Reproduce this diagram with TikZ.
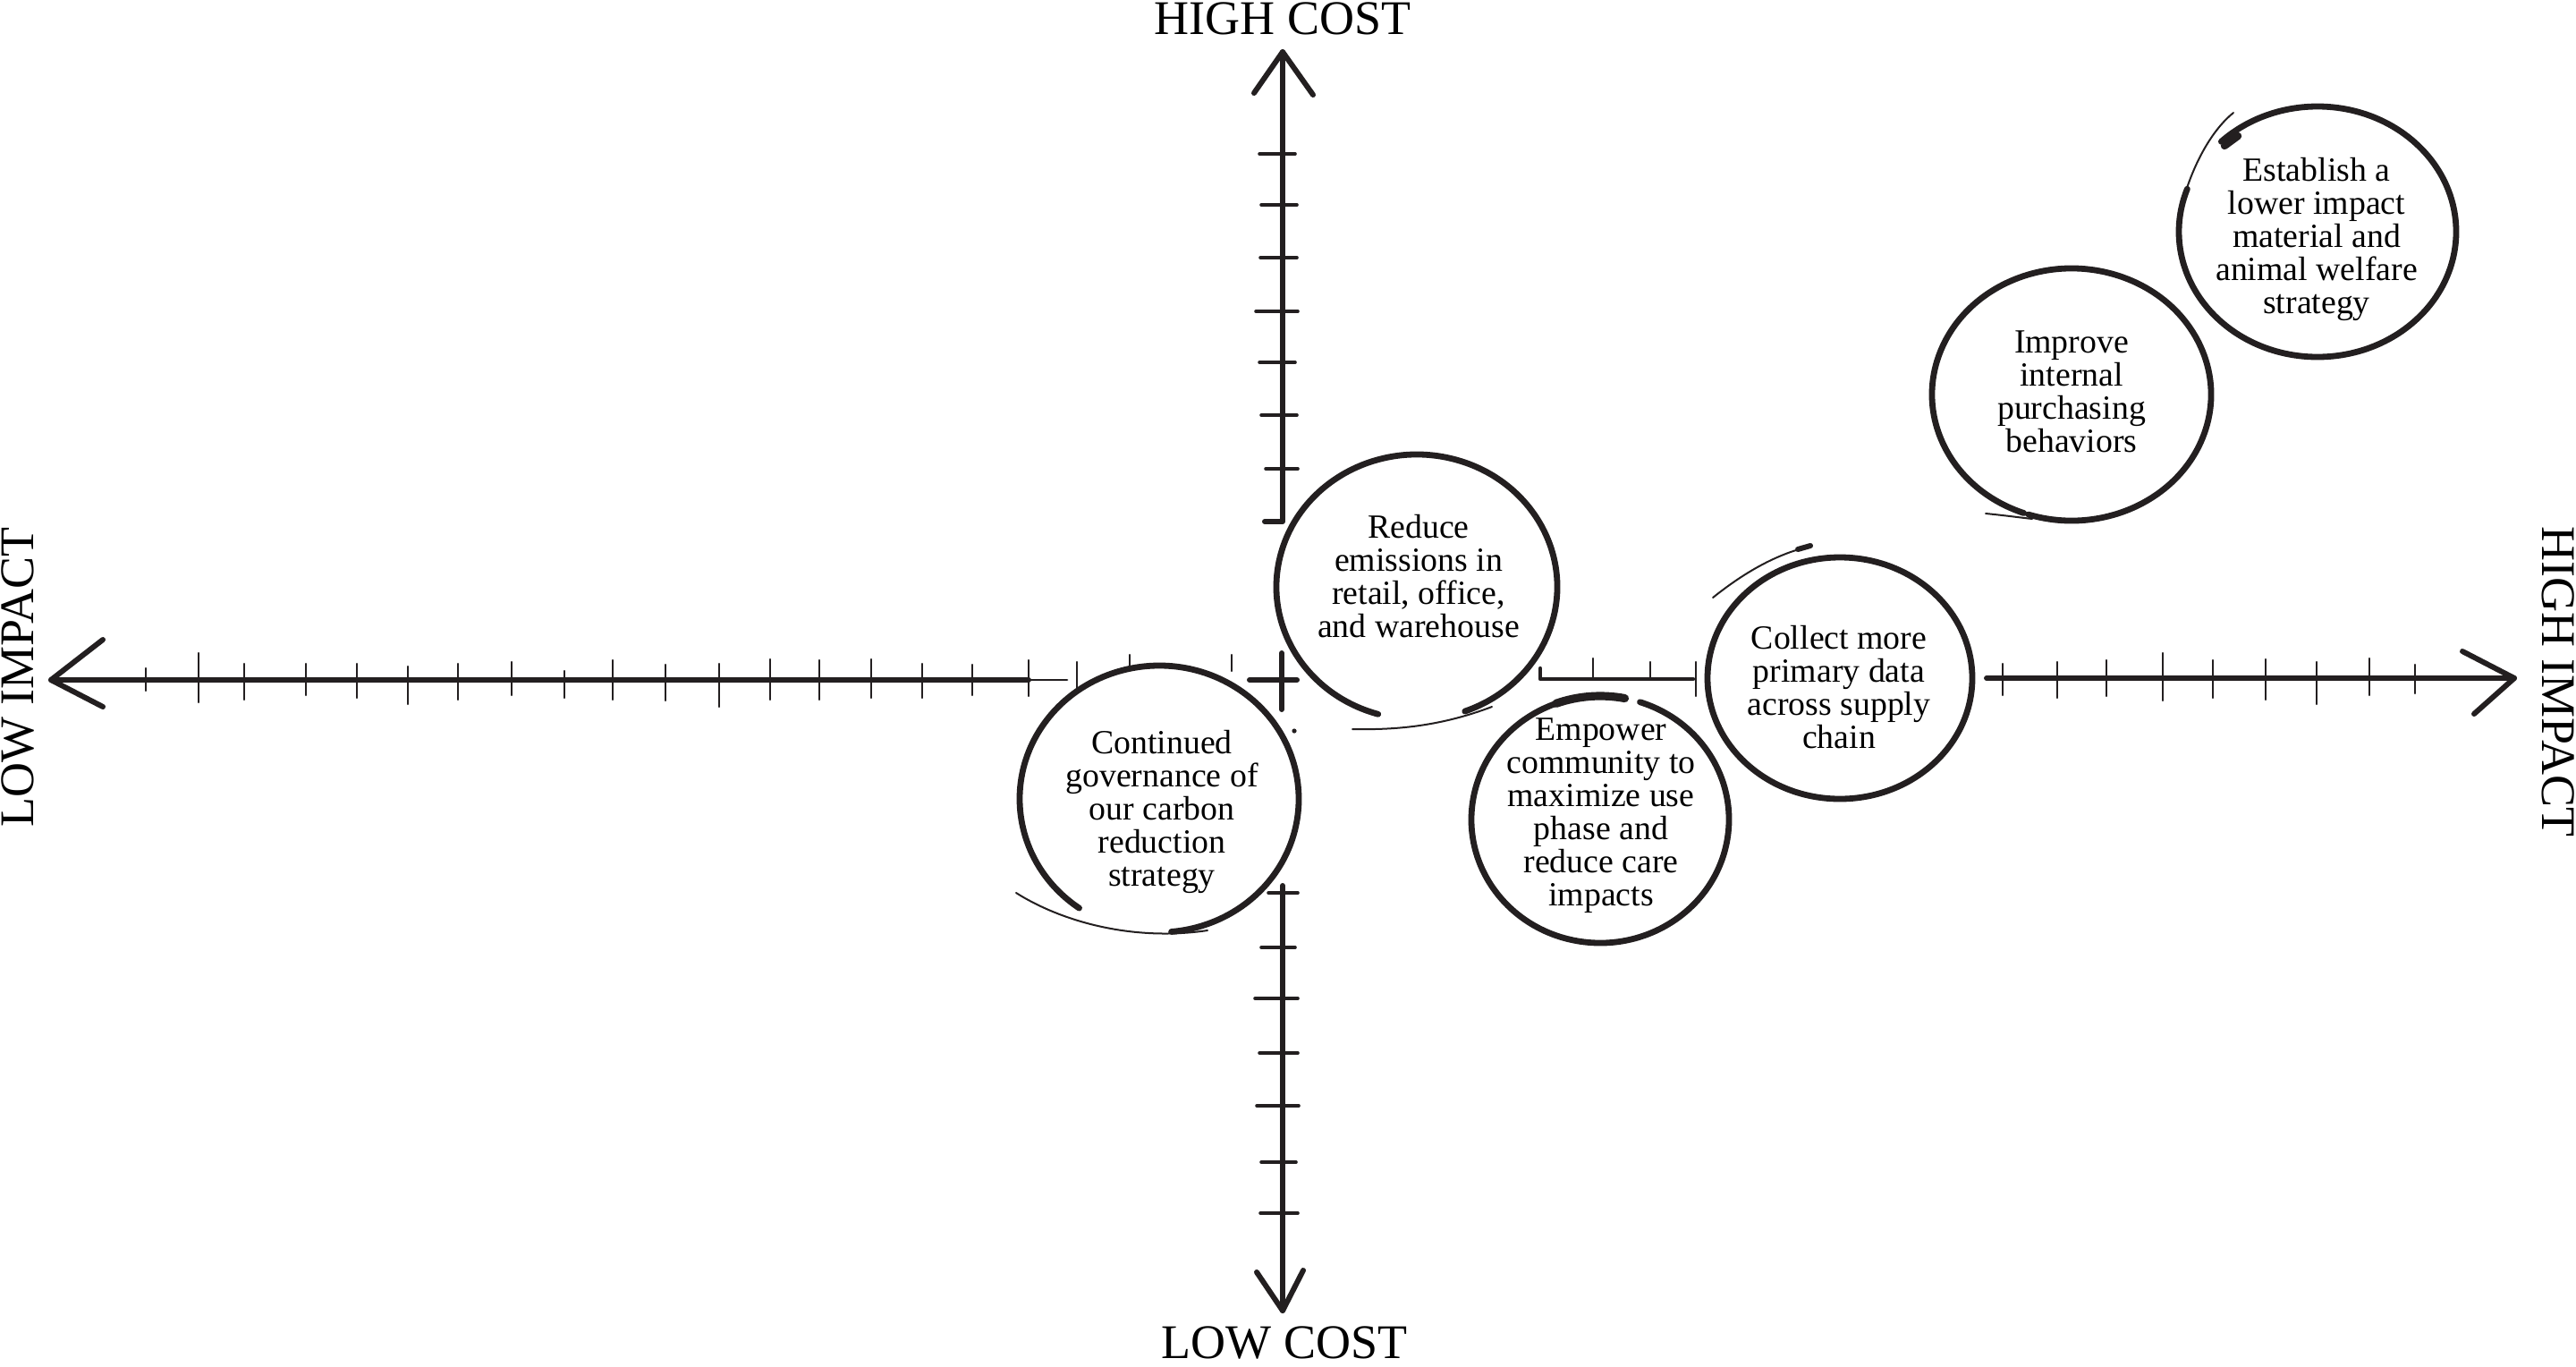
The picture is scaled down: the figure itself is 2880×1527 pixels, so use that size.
\documentclass[tikz,border=0pt]{standalone}
\usepackage{fontspec}
\setmainfont{Liberation Serif}
\definecolor{inkc}{HTML}{231F20}
\begin{document}
\begin{tikzpicture}[x=0.5pt,y=-0.5pt,
  ink/.style={draw=inkc, line cap=round, line join=round},
  axisline/.style={ink, line width=3pt},
  tickv/.style={ink, line width=1.1pt},
  tickh/.style={ink, line width=1.8pt},
  loopline/.style={ink, line width=3.4pt},
  tailline/.style={ink, line width=1pt},
  bubble/.style={align=center, inner sep=0pt, text=black, font=\fontsize{18.9}{18.5}\selectfont},
  axislabel/.style={inner sep=0pt, text=black, font=\fontsize{27}{30}\selectfont},
]
\fill[white] (0,0) rectangle (2880,1527);
\useasboundingbox (0,0) rectangle (2880,1527);

% ---------- axis labels ----------
\node[axislabel, anchor=base] (hc) at (1434,38) {HIGH COST};
\node[axislabel, anchor=base] (lc) at (1436,1518) {LOW COST};
\node[axislabel, anchor=base, rotate=90] (li) at (38,757) {LOW IMPACT};
\node[axislabel, anchor=base, rotate=-90] (hi) at (2842,762) {HIGH IMPACT};

% ---------- vertical axis ----------
\coordinate (vtop) at (1434,58);
\coordinate (vfoot) at (1434,583);
\coordinate (vlow) at (1434,990);
\coordinate (vbot) at (1434,1465);
\draw[axisline] (vtop) -- (vfoot) -- (1414,583);
\draw[axisline] (1402,104) -- (vtop) -- (1468,106);
\foreach \y/\a/\b in {172/26/14, 229/24/16, 288/25/16, 348/30/17, 405/26/14, 464/24/16, 524/19/17}
  \draw[tickh] (1434-\a,\y) -- (1434+\b,\y);
\draw[axisline] (vlow) -- (vbot);
\draw[axisline] (1405,1422) -- (vbot) -- (1457,1420);
\foreach \y/\a/\b in {998/16/17, 1059/24/14, 1116/31/17, 1177/26/17, 1236/29/18, 1299/24/15, 1356/25/17}
  \draw[tickh] (1434-\a,\y) -- (1434+\b,\y);
% centre cross
\draw[axisline] (1433,730) -- (1433,793);
\draw[axisline] (1397,760) -- (1450,760);
\fill[inkc] (1447,817) circle (1.3pt);

% ---------- horizontal axis ----------
\coordinate (hleft) at (57,760);
\coordinate (hright) at (2811,758);
\draw[axisline] (hleft) -- (1150,760);
\draw[ink, line width=1.4pt] (1150,760) -- (1193,760);
\draw[axisline] (115,715) -- (hleft) -- (115,790);
\foreach \x/\t/\b in {163/747/772, 222/730/785, 273/742/782, 342/742/777, 399/742/780,
  456/745/787, 512/742/782, 572/740/777, 631/750/780, 685/738/782, 744/743/783,
  804/742/790, 861/737/782, 916/738/782, 974/737/780, 1031/742/780, 1087/743/777,
  1150/738/778, 1204/740/770, 1263/732/745, 1377/732/750}
  \draw[tickv] (\x,\t) -- (\x,\b);
% middle piece
\draw[ink, line width=2.2pt] (1722,747) -- (1722,759) -- (1893,759);
\draw[tickv] (1781,736) -- (1781,758);
\draw[tickv] (1845,740) -- (1845,758);
\draw[tickv] (1896,740) -- (1896,778);
% right piece
\draw[axisline] (2221,758) -- (hright);
\draw[axisline] (2753,728) -- (hright) -- (2766,798);
\foreach \x/\t/\b in {2239/742/777, 2300/740/780, 2355/738/778, 2418/730/783, 2474/738/780,
  2533/737/782, 2590/740/787, 2649/736/777, 2700/743/775}
  \draw[tickv] (\x,\t) -- (\x,\b);

% ---------- bubbles ----------
% Reduce
\coordinate (cRed) at (1584,656);
\draw[loopline] (cRed) ++(106:157 and 148) arc[start angle=106, end angle=430, x radius=157, y radius=148];
\draw[tailline] (1668,790) .. controls (1610,812) and (1560,816) .. (1512,815);
\node[bubble] (tRed) at (1586,644) {Reduce\\emissions in\\retail, office,\\and warehouse};

% Continued
\coordinate (cCon) at (1296,893);
\draw[loopline] (cCon) ++(125:156 and 149) arc[start angle=125, end angle=445, x radius=156, y radius=149];
\draw[tailline] (1350,1040) .. controls (1270,1052) and (1190,1032) .. (1136,998);
\node[bubble] (tCon) at (1299,907) {Continued\\governance of\\our carbon\\reduction\\strategy};

% Empower
\coordinate (cEmp) at (1789,916);
\draw[loopline] (cEmp) ++(279:144 and 138) arc[start angle=279, end angle=-72, x radius=144, y radius=138];
\draw[ink, line width=4.6pt] (cEmp) ++(250:144 and 138) arc[start angle=250, end angle=281, x radius=144, y radius=138];
\node[bubble] (tEmp) at (1790,912) {Empower\\community to\\maximize use\\phase and\\reduce care\\impacts};

% Collect
\coordinate (cCol) at (2057,758);
\draw[loopline] (cCol) ellipse [x radius=148, y radius=135];
\draw[tailline] (1915,668) .. controls (1950,640) and (1985,620) .. (2022,611);
\draw[ink, line width=3pt] (2010,614) -- (2024,610);
\node[bubble] (tCol) at (2056,768) {Collect more\\primary data\\across supply\\chain};

% Improve
\coordinate (cImp) at (2316,441);
\draw[loopline] (cImp) ++(110:156 and 141) arc[start angle=110, end angle=468, x radius=156, y radius=141];
\draw[tailline] (2272,580) .. controls (2255,578) and (2240,576) .. (2220,574);
\node[bubble] (tImp) at (2316,438) {Improve\\internal\\purchasing\\behaviors};

% Establish
\coordinate (cEst) at (2591,259);
\draw[loopline] (cEst) ++(226:155 and 140) arc[start angle=226, end angle=560, x radius=155, y radius=140];
\draw[tailline] (2445,210) .. controls (2458,172) and (2477,142) .. (2497,126);
\draw[ink, line width=4.2pt] (2487,163) -- (2502,152);
\node[bubble] (tEst) at (2590,267) {Establish a\\lower impact\\material and\\animal welfare\\strategy};
\end{tikzpicture}
\end{document}
